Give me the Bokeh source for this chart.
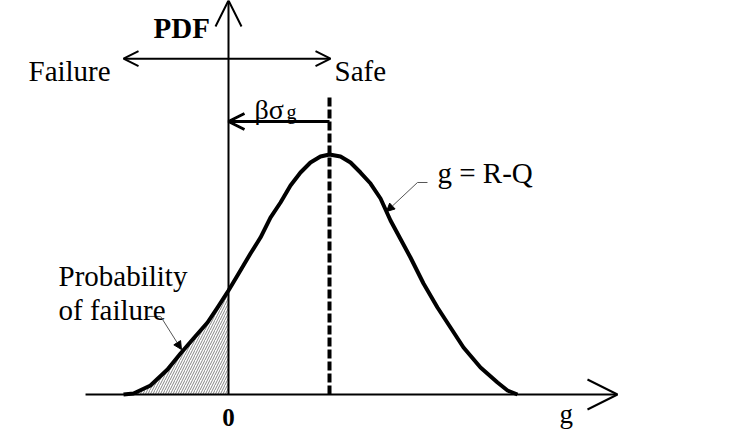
from bokeh.plotting import figure
from bokeh.models import Range1d, Arrow, OpenHead, NormalHead
from bokeh.core.properties import value
from bokeh.embed import file_html
from bokeh.resources import INLINE

# ---- data (g in units of sigma_g, PDF values) ----
g_curve = [-1.346, -1.218, -1.000, -0.782, -0.615, -0.449, -0.269, -0.141, 0.000,
           0.115, 0.282, 0.410, 0.538, 0.667, 0.795, 0.923, 1.051, 1.179, 1.295,
           1.436, 1.564, 1.692, 1.821, 1.949, 2.077, 2.167, 2.333, 2.500, 2.679,
           2.846, 3.013, 3.231, 3.449, 3.577, 3.705]
pdf_curve = [0.0, 0.0017, 0.0149, 0.0414, 0.0679, 0.0927, 0.1192, 0.1440, 0.1722,
             0.1970, 0.2334, 0.2599, 0.2930, 0.3179, 0.3460, 0.3675, 0.3841, 0.3940, 0.3974,
             0.3940, 0.3841, 0.3675, 0.3493, 0.3245, 0.2881, 0.2666, 0.2268, 0.1838, 0.1440,
             0.1109, 0.0778, 0.0447, 0.0199, 0.0066, 0.0]
beta_sigma = 1.295         # mean of g (beta * sigma_g)
g_axis = [-1.833, 4.987]   # extent of the g axis
pdf_axis_top = 0.6523
failure_safe_y = 0.556
failure_safe_x = [-1.346, 1.308]
beta_arrow_y = 0.452
dash_top = 0.492

fail_g = [g for g in g_curve if g <= 0]
fail_pdf = pdf_curve[:len(fail_g)]

label_text = ["Failure", "Safe", "g = R-Q", "Probability", "of failure"]
label_x = [-2.564, 1.359, 2.679, -2.179, -2.179]
label_y = [0.5348, 0.5348, 0.3659, 0.1970, 0.1391]

FONT = value("Liberation Serif")

p = figure(width=750, height=432, x_range=Range1d(-2.9231, 6.6923),
           y_range=Range1d(-0.06291, 0.65232), output_backend="svg",
           toolbar_location=None, min_border=0)
p.axis.visible = False
p.grid.visible = False
p.outline_line_color = None
p.background_fill_color = "white"
p.border_fill_color = "white"

# hatched failure area
p.varea(x=fail_g, y1=[0] * len(fail_g), y2=fail_pdf, fill_alpha=0,
        hatch_pattern="/", hatch_color="#333333", hatch_scale=5, hatch_weight=0.6)

# axes with open arrow heads
p.add_layout(Arrow(x_start=g_axis[0], y_start=0, x_end=g_axis[1], y_end=0,
                   line_width=2, line_color="black",
                   end=OpenHead(size=30, line_width=2, line_color="black")))
p.add_layout(Arrow(x_start=0, y_start=0, x_end=0, y_end=pdf_axis_top,
                   line_width=2, line_color="black",
                   end=OpenHead(size=26, line_width=2, line_color="black")))

# Failure <-> Safe
p.add_layout(Arrow(x_start=failure_safe_x[0], y_start=failure_safe_y,
                   x_end=failure_safe_x[1], y_end=failure_safe_y,
                   line_width=2, line_color="black",
                   start=OpenHead(size=15, line_width=2, line_color="black"),
                   end=OpenHead(size=15, line_width=2, line_color="black")))

# beta sigma arrow
p.add_layout(Arrow(x_start=beta_sigma, y_start=beta_arrow_y, x_end=0, y_end=beta_arrow_y,
                   line_width=3, line_color="black",
                   end=OpenHead(size=16, line_width=3, line_color="black")))

# dashed mean line
p.line(x=[beta_sigma, beta_sigma], y=[0, dash_top], line_width=4,
       line_color="black", line_dash="9 3")

# PDF curve
p.line(x=g_curve, y=pdf_curve, line_width=4, line_color="black", line_join="round")

# leader lines
p.line(x=[-1.03, -0.87], y=[0.1292, 0.1292], line_width=1, line_color="#555555")
p.add_layout(Arrow(x_start=-0.87, y_start=0.1292, x_end=-0.603, y_end=0.0745,
                   line_width=1, line_color="#555555",
                   end=NormalHead(size=8, fill_color="black", line_color="black")))
p.line(x=[2.551, 2.423], y=[0.351, 0.351], line_width=1, line_color="#555555")
p.add_layout(Arrow(x_start=2.423, y_start=0.351, x_end=2.026, y_end=0.303,
                   line_width=1, line_color="#555555",
                   end=NormalHead(size=8, fill_color="black", line_color="black")))

# texts
p.text(x=label_x, y=label_y, text=label_text, text_font=FONT,
       text_font_size="29px", text_baseline="alphabetic", text_align="left",
       text_color="black")
p.text(x=[-0.9615], y=[0.6076], text=["PDF"], text_font=FONT, text_font_style="bold",
       text_font_size="29px", text_baseline="alphabetic", text_align="left")
p.text(x=[0.333], y=[0.4719], text=["βσ"], text_font=FONT,
       text_font_size="28px", text_baseline="alphabetic", text_align="left")
p.text(x=[0.744], y=[0.4685], text=["g"], text_font=FONT,
       text_font_size="20px", text_baseline="alphabetic", text_align="left")
p.text(x=[0], y=[-0.0381], text=["0"], text_font=FONT, text_font_style="bold",
       text_font_size="25px", text_baseline="alphabetic", text_align="center")
p.text(x=[4.244], y=[-0.0331], text=["g"], text_font=FONT,
       text_font_size="27px", text_baseline="alphabetic", text_align="left")

open("out.html", "w").write(file_html(p, INLINE))
